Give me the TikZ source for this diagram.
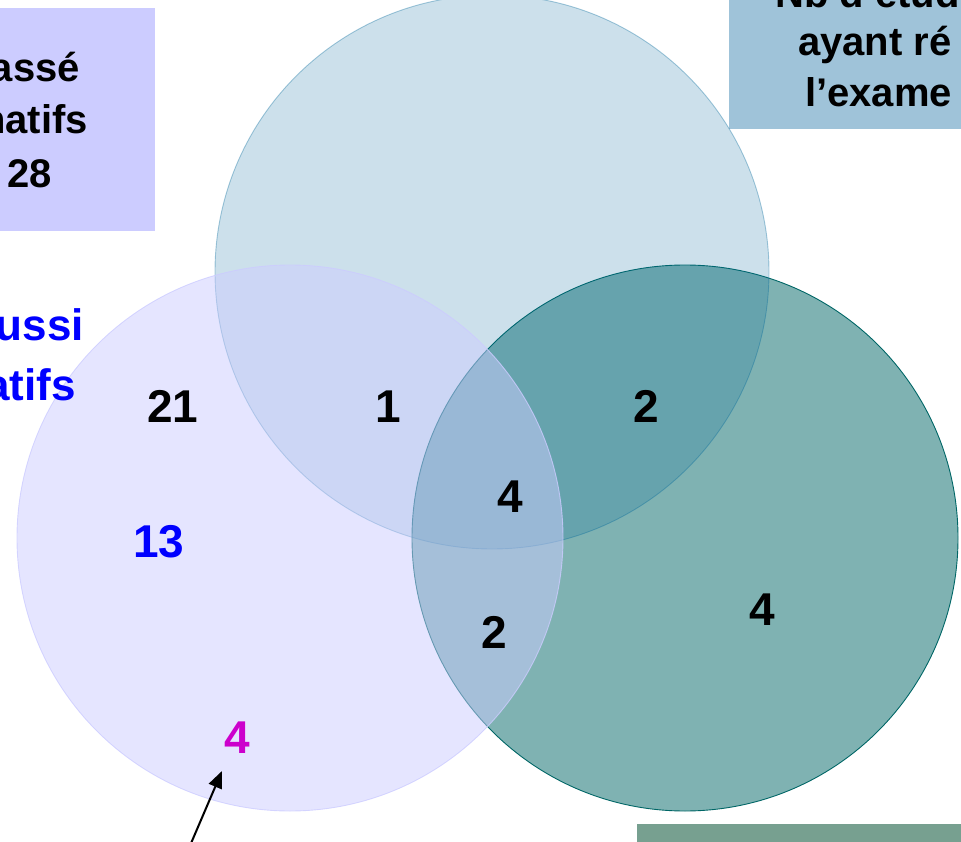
\documentclass[tikz,border=0pt]{standalone}
\usepackage{fontspec}
\setmainfont{Liberation Sans}
\usetikzlibrary{arrows.meta}
\definecolor{boxlav}{RGB}{204,204,255}
\definecolor{boxblue}{RGB}{159,195,217}
\definecolor{tealdk}{RGB}{0,102,102}
\definecolor{topblue}{RGB}{0,102,153}
\definecolor{barg}{RGB}{119,160,144}
\definecolor{magen}{RGB}{204,0,204}
\definecolor{lblue}{RGB}{0,0,255}
\begin{document}
\begin{tikzpicture}[x=1pt,y=-1pt,
  num/.style={font=\fontsize{46}{46}\selectfont\bfseries, inner sep=0pt, anchor=base},
  boxtxt/.style={font=\fontsize{40}{40}\selectfont\bfseries, inner sep=0pt},
  bluetxt/.style={font=\fontsize{44}{44}\selectfont\bfseries, inner sep=0pt, anchor=base east, text=lblue}]
\useasboundingbox (0,0) rectangle (961,842);
\clip (0,0) rectangle (961,842);
% boxes
\fill[boxlav] (0,8) rectangle (155,231);
\fill[boxblue] (729,-2) rectangle (963,129);
\fill[barg] (637,824) rectangle (963,844);
% circle centres
\coordinate (ctop) at (492,272);
\coordinate (cleft) at (290,538);
\coordinate (cright) at (685,538);
% circles
\filldraw[fill=tealdk, fill opacity=0.5, draw=tealdk, line width=0.9pt] (cright) circle [radius=273];
\filldraw[fill=topblue, fill opacity=0.2, draw=topblue, draw opacity=0.35, line width=0.9pt] (ctop) circle [radius=277];
\filldraw[fill=boxlav, fill opacity=0.5, draw=boxlav, draw opacity=0.8, line width=0.9pt] (cleft) circle [radius=273];
% box texts
\node[boxtxt, anchor=base east] (tl1) at (80,82) {assé};
\node[boxtxt, anchor=base east] (tl2) at (88,134) {natifs};
\node[boxtxt, anchor=base east] (tl3) at (52,188) {28};
\node[boxtxt, anchor=base west] (tr1) at (775,8) {Nb d’étud};
\node[boxtxt, anchor=base west] (tr2) at (798,56) {ayant ré};
\node[boxtxt, anchor=base west] (tr3) at (805,107) {l’exame};
% blue left texts
\node[bluetxt] (bl1) at (84,340) {ussi};
\node[bluetxt] (bl2) at (76,400) {atifs};
% numbers
\node[num] (n21) at (173,422) {21};
\node[num] (n1) at (388,422) {1};
\node[num] (n2a) at (646,422) {2};
\node[num] (n4c) at (510,512) {4};
\node[num] (n2b) at (494,648) {2};
\node[num] (n4r) at (762,625) {4};
\node[num, text=lblue] (n13) at (159,557) {13};
\node[num, text=magen] (n4m) at (237,753) {4};
% arrow
\coordinate (atail) at (189,848);
\coordinate (ahead) at (222,771);
\draw[line width=2pt, -{Triangle[length=17pt,width=14pt]}] (atail) -- (ahead);
\end{tikzpicture}
\end{document}
